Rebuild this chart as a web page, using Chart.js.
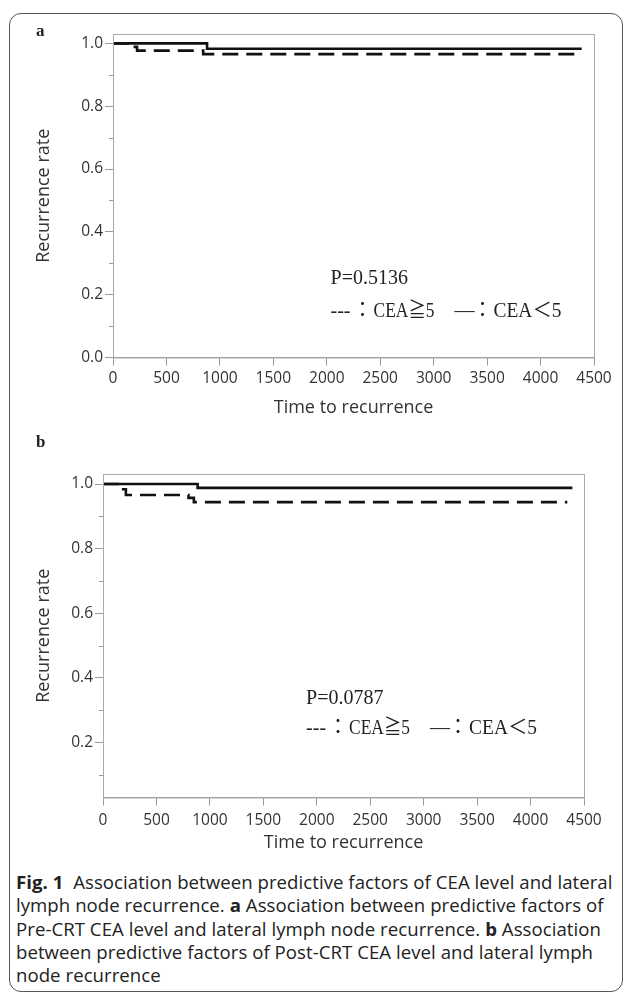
<!DOCTYPE html>
<html>
<head>
<meta charset="utf-8">
<script src="https://cdn.jsdelivr.net/npm/chart.js@4.4.1/dist/chart.umd.min.js"></script>
<style>
  html, body { margin: 0; padding: 0; background: #fff; }
  #page { position: relative; width: 630px; height: 1000px; overflow: hidden; }
  .frame {
    position: absolute; left: 9px; top: 13px; width: 614px; height: 979px;
    border: 1.5px solid #555; border-radius: 12px; box-sizing: border-box;
  }
  canvas { position: absolute; left: 0; }
  #chartA { top: 0; }
  #chartB { top: 430px; }
  .panel {
    position: absolute; font-family: "Liberation Serif", serif; font-weight: bold;
    font-size: 17px; line-height: 17px; color: #222;
  }
  #caption {
    position: absolute; left: 16px; top: 870px;
    font-family: "Open Sans", sans-serif; font-size: 18.6px; line-height: 23.3px;
    color: #222; white-space: nowrap; letter-spacing: 0.05px;
  }
  #caption b { font-weight: bold; }
</style>
</head>
<body>
<div id="page">
  <div class="frame"></div>
  <canvas id="chartA" width="630" height="430"></canvas>
  <canvas id="chartB" width="630" height="430"></canvas>
  <div class="panel" style="left:36px; top:22px;">a</div>
  <div class="panel" style="left:36px; top:433px;">b</div>
  <div id="caption">
    <b>Fig. 1</b>&nbsp; Association between predictive factors of CEA level and lateral<br>
    lymph node recurrence. <b>a</b> Association between predictive factors of<br>
    Pre-CRT CEA level and lateral lymph node recurrence. <b>b</b> Association<br>
    between predictive factors of Post-CRT CEA level and lateral lymph<br>
    node recurrence
  </div>
</div>
<script>
// ticks
const timeTicks = [0, 500, 1000, 1500, 2000, 2500, 3000, 3500, 4000, 4500];
const rateTicksA = [0, 0.2, 0.4, 0.6, 0.8, 1.0];
const rateTicksB = [0.2, 0.4, 0.6, 0.8, 1.0];
const minorTicks = [0.1, 0.3, 0.5, 0.7, 0.9];

// a: Pre-CRT CEA
const preHighTime = [0, 165, 225, 844, 4366];
const preHighRate = [1, 0.989, 0.977, 0.966, 0.966];
const preLowTime = [0, 880, 4385];
const preLowRate = [1, 0.983, 0.983];

// b: Post-CRT CEA
const postHighTime = [0, 163, 214, 800, 850, 4344];
const postHighRate = [1, 0.984, 0.966, 0.957, 0.944, 0.944];
const postLowTime = [0, 885, 4391];
const postLowRate = [1, 0.988, 0.988];

const pValueA = 'P=0.5136';
const pValueB = 'P=0.0787';
const legendHigh = 'CEA≧5';
const legendLow = 'CEA＜5';

const tickFont = { family: '"Open Sans", sans-serif', size: 15.5 };
const titleFont = { family: '"Open Sans", sans-serif', size: 18, lineHeight: 1.2 };
const noteFont = '20px "Liberation Serif", "DejaVu Serif", "Noto Sans CJK JP", serif';

function toPoints(times, rates) {
  return times.map((t, i) => ({ x: t, y: rates[i] }));
}

// frame, minor ticks and the P / legend note
const decorPlugin = {
  id: 'decor',
  afterDraw(chart, args, opts) {
    const { ctx, chartArea: a, scales: { x, y } } = chart;
    ctx.save();
    ctx.strokeStyle = '#aaa';
    ctx.lineWidth = 1;
    ctx.strokeRect(a.left + 0.5, a.top + 0.5, a.right - a.left, a.bottom - a.top);

    ctx.strokeStyle = '#999';
    opts.minor.forEach(v => {
      if (v < y.min || v > y.max) return;
      const py = Math.round(y.getPixelForValue(v)) + 0.5;
      ctx.beginPath();
      ctx.moveTo(a.left - 4, py);
      ctx.lineTo(a.left, py);
      ctx.stroke();
    });

    const px = x.getPixelForValue(opts.noteX);
    ctx.fillStyle = '#222';
    ctx.font = noteFont;
    ctx.textBaseline = 'middle';
    ctx.textAlign = 'left';
    ctx.fillText(opts.pText, px, y.getPixelForValue(opts.pY));

    const ly = y.getPixelForValue(opts.legendY);
    const pieces = [
      { t: '---', dx: 0 },
      { t: '：', dx: 32, align: 'center' },
      { t: legendHigh, dx: 43, w: 61 },
      { t: '—', dx: 124 },
      { t: '：', dx: 152, align: 'center' },
      { t: legendLow, dx: 163, w: 68 }
    ];
    pieces.forEach(p => {
      ctx.textAlign = p.align || 'left';
      if (p.w) ctx.fillText(p.t, px + p.dx, ly, p.w);
      else ctx.fillText(p.t, px + p.dx, ly);
    });
    ctx.restore();
  }
};

function makeChart(id, g) {
  new Chart(document.getElementById(id), {
    type: 'line',
    data: {
      datasets: [
        {
          data: toPoints(g.highTime, g.highRate),
          borderColor: '#111', borderWidth: 2.6, borderDash: [16, 8],
          stepped: true, pointRadius: 0, fill: false
        },
        {
          data: toPoints(g.lowTime, g.lowRate),
          borderColor: '#111', borderWidth: 2.6,
          stepped: true, pointRadius: 0, fill: false
        }
      ]
    },
    options: {
      responsive: false,
      animation: false,
      devicePixelRatio: 1,
      layout: { padding: g.pad },
      plugins: {
        legend: { display: false },
        tooltip: { enabled: false },
        decor: g.decor
      },
      scales: {
        x: {
          type: 'linear', min: 0, max: 4500,
          afterBuildTicks: s => { s.ticks = timeTicks.map(v => ({ value: v })); },
          afterFit: s => { s.height = g.xHeight; },
          ticks: {
            font: tickFont, color: '#333', padding: g.xPad, maxRotation: 0, autoSkip: false,
            callback: v => String(v)
          },
          grid: { drawOnChartArea: false, drawTicks: true, tickLength: 8, color: '#999' },
          border: { color: '#999' },
          title: { display: true, text: 'Time to recurrence', font: titleFont, color: '#333', padding: 0 }
        },
        y: {
          type: 'linear', min: g.yMin, max: g.yMax,
          afterBuildTicks: s => { s.ticks = g.rateTicks.map(v => ({ value: v })); },
          afterFit: s => { s.width = g.yWidth; },
          ticks: { font: tickFont, color: '#333', padding: 2, callback: v => v.toFixed(1) },
          grid: { drawOnChartArea: false, drawTicks: true, tickLength: 8, color: '#999' },
          border: { color: '#999' },
          title: { display: true, text: 'Recurrence rate', font: titleFont, color: '#333', padding: 0 }
        }
      }
    },
    plugins: [decorPlugin]
  });
}

makeChart('chartA', {
  highTime: preHighTime, highRate: preHighRate,
  lowTime: preLowTime, lowRate: preLowRate,
  rateTicks: rateTicksA, yMin: 0, yMax: 1.03,
  pad: { left: 33, right: 36, top: 34, bottom: 11 },
  yWidth: 80, xHeight: 61.5, xPad: 4,
  decor: { minor: minorTicks, noteX: 2035, pY: 0.25, legendY: 0.145, pText: pValueA }
});

makeChart('chartB', {
  highTime: postHighTime, highRate: postHighRate,
  lowTime: postLowTime, lowRate: postLowRate,
  rateTicks: rateTicksB, yMin: 0.03, yMax: 1.031,
  pad: { left: 33, right: 46, top: 44, bottom: 6 },
  yWidth: 70, xHeight: 56.5, xPad: 5.5,
  decor: { minor: minorTicks, noteX: 1900, pY: 0.335, legendY: 0.243, pText: pValueB }
});
</script>
</body>
</html>
